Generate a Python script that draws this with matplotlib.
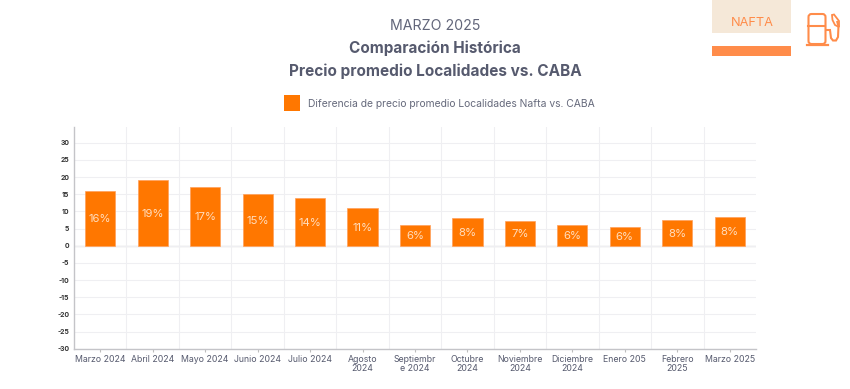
import matplotlib
matplotlib.use("Agg")
import matplotlib.pyplot as plt
from matplotlib.patches import Rectangle, FancyBboxPatch, Polygon
from matplotlib.path import Path
from matplotlib.patches import PathPatch

plt.rcParams['font.family'] = ['Inter', 'DejaVu Sans']

categories = ["Marzo 2024", "Abril 2024", "Mayo 2024", "Junio 2024", "Julio 2024", "Agosto\n2024",
              "Septiembr\ne 2024", "Octubre\n2024", "Noviembre\n2024", "Diciembre\n2024",
              "Enero 205", "Febrero\n2025", "Marzo 2025"]
values = [16, 19, 17, 15, 14, 11, 6, 8, 7.3, 6, 5.5, 7.5, 8.3]
labels = ["16%", "19%", "17%", "15%", "14%", "11%", "6%", "8%", "7%", "6%", "6%", "8%", "8%"]
yticks = list(range(-30, 31, 5))
legend_label = "Diferencia de precio promedio Localidades Nafta vs. CABA"

W, H = 850, 389
ORANGE = "#FF7700"
ACC = "#FF8C4A"
TXT = "#565A6E"
GRID = "#EFEFF2"

fig = plt.figure(figsize=(W/100, H/100), dpi=100, facecolor="white")

# overlay in pixel coordinates
ov = fig.add_axes([0, 0, 1, 1])
ov.set_xlim(0, W); ov.set_ylim(H, 0); ov.axis("off")

ov.text(435, 25.5, "MARZO 2025", ha="center", va="center", fontsize=10.2, color="#62667A")
ov.text(435, 48, "Comparación Histórica", ha="center", va="center", fontsize=11, color=TXT, fontweight="bold")
ov.text(435, 71.5, "Precio promedio Localidades vs. CABA", ha="center", va="center", fontsize=11.05, color=TXT, fontweight="bold")
ov.add_patch(Rectangle((284, 95), 16, 16, color=ORANGE, lw=0))
ov.text(308, 103.5, legend_label, ha="left", va="center", fontsize=7.45, color="#666A7C")

# NAFTA badge
ov.add_patch(Rectangle((712.5, 0), 78.5, 33, color="#F5E8D8", lw=0))
ov.add_patch(Rectangle((712.5, 46), 78.5, 10, color=ACC, lw=0))
ov.text(752, 23, "NAFTA", ha="center", va="center", fontsize=9.2, color=ACC)

# pump icon
ov.add_patch(FancyBboxPatch((808.5, 14), 17, 30, boxstyle="round,pad=0,rounding_size=3",
                            fc="none", ec=ACC, lw=1.5))
ov.plot([808.5, 825.5], [25.5, 25.5], color=ACC, lw=1.5)
ov.plot([807, 828], [44.5, 44.5], color=ACC, lw=1.6)
v = [(825.5, 30), (830, 30), (831, 38), (833, 40.5), (836, 40.5), (838, 37),
     (838.5, 26), (837, 21)]
ov.add_patch(PathPatch(Path(v), fc="none", ec=ACC, lw=1.5))
ov.add_patch(Polygon([(832, 15), (834, 14.5), (839, 21), (839, 27), (835, 25), (832.5, 20)],
                     fc="none", ec=ACC, lw=1.3))

# chart
L, R, T, B = 74, 756, 127, 348.7
ax = fig.add_axes([L/W, 1-B/H, (R-L)/W, (B-T)/H])
ax.patch.set_alpha(0)
x = list(range(len(categories)))
ax.set_xlim(-0.5, len(categories)-0.5)
ax.set_ylim(-30, 30 + (142.7-T)/3.435)
ax.bar(x, values, width=0.575, color=ORANGE, zorder=3, edgecolor="#FFA05A", linewidth=0.5)
for xi, v_, lab in zip(x, values, labels):
    ax.text(xi, v_/2 - 0.25, lab, ha="center", va="center", fontsize=8.2, color="#FFDDBD", zorder=4)

ax.set_yticks(yticks)
ax.set_yticklabels([str(t) for t in yticks], fontsize=4.9, color="#333333", fontweight="bold")
ax.set_xticks(x)
ax.set_xticklabels(categories, fontsize=6.3, color=TXT, linespacing=1.05)
ax.set_xticks([i+0.5 for i in x[:-1]], minor=True)
ax.grid(True, axis="x", which="minor", color=GRID, lw=0.8, zorder=0)
ax.grid(True, axis="y", which="major", color=GRID, lw=0.8, zorder=0)
ax.axhline(0, color="#DCDCE0", lw=1, zorder=1)
ax.tick_params(axis="x", which="major", length=2, color="#BDBDBD", pad=2.2)
ax.tick_params(axis="x", which="minor", length=0)
ax.tick_params(axis="y", length=0, pad=3.5)
for s in ("top", "right"):
    ax.spines[s].set_visible(False)
for s in ("left", "bottom"):
    ax.spines[s].set_color("#C4C4C8")
    ax.spines[s].set_linewidth(1)

fig.savefig("out.png", dpi=100)
